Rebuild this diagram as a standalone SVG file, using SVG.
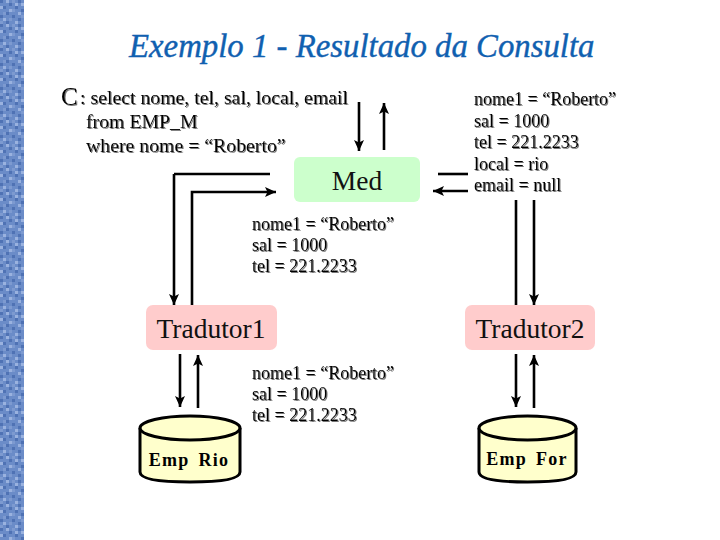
<svg xmlns="http://www.w3.org/2000/svg" width="720" height="540" viewBox="0 0 720 540">
<style>
text{font-family:"Liberation Serif","Times New Roman",serif;fill:#000}
.t{font-size:18px;filter:url(#sh)}
.q{font-size:19.800px;filter:url(#sh)}
.title{font-size:32.800px;font-style:italic;fill:#1060b0;stroke:#1060b0;stroke-width:0.400px}
.n{font-size:27.500px;fill:#111}
.db{font-size:18px;font-weight:bold;letter-spacing:1.300px;word-spacing:3px}
.box1{fill:#ffcccc}
.box2{fill:#ccffcc}
.cyl{fill:#ffffcc;stroke:#000;stroke-width:3}
.c{fill:none;stroke:#000;stroke-width:2.600}
.a{marker-end:url(#ah)}
</style>
<defs>
<filter id="sh" x="-5%" y="-10%" width="110%" height="125%"><feDropShadow dx="1" dy="1" stdDeviation="0.4" flood-color="#777"/></filter>
<marker id="ah" markerUnits="userSpaceOnUse" markerWidth="14" markerHeight="12" refX="11" refY="5" orient="auto"><path d="M0 0L11 5L0 10L2.500 5Z" fill="#000"/></marker>
<pattern id="tex" width="24" height="24" patternUnits="userSpaceOnUse">
<rect width="24" height="24" fill="#6b8cc8"/>
<path d="M0 0h3v3h-3zM9 3h3v3h-3zM18 0h3v3h-3zM3 6h3v3h-3zM15 6h3v3h-3zM21 9h3v3h-3zM6 12h3v3h-3zM12 15h3v3h-3zM0 15h3v3h-3zM18 18h3v3h-3zM6 21h3v3h-3z" fill="#4f72b4"/>
<path d="M6 0h3v3h-3zM15 3h3v3h-3zM0 6h3v3h-3zM9 9h3v3h-3zM18 12h3v3h-3zM3 18h3v3h-3zM15 21h3v3h-3zM21 3h3v3h-3z" fill="#9ab2df"/>
<path d="M12 0h3v3h-3zM3 12h3v3h-3zM12 9h3v3h-3zM21 15h3v3h-3zM9 18h3v3h-3zM0 21h3v3h-3z" fill="#7d9ad0"/>
</pattern>
</defs>
<rect width="720" height="540" fill="#fff"/>
<rect width="24" height="540" fill="url(#tex)"/>
<text class="title" x="129" y="57">Exemplo 1 - Resultado da Consulta</text>
<g id="query" class="q">
<text x="61" y="105" style="font-size:25px">C</text>
<text x="80" y="104">: select nome, tel, sal, local, email</text>
<text x="86" y="128">from EMP_M</text>
<text x="86" y="152">where nome = “Roberto”</text>
</g>
<g id="result-med" class="t">
<text x="474" y="105">nome1 = “Roberto”</text>
<text x="474" y="127">sal = 1000</text>
<text x="474" y="148">tel = 221.2233</text>
<text x="474" y="170">local = rio</text>
<text x="474" y="191">email = null</text>
</g>
<g id="result-t1" class="t">
<text x="252" y="230">nome1 = “Roberto”</text>
<text x="252" y="251">sal = 1000</text>
<text x="252" y="272">tel = 221.2233</text>
</g>
<g id="result-emp" class="t">
<text x="252" y="379">nome1 = “Roberto”</text>
<text x="252" y="400">sal = 1000</text>
<text x="252" y="421">tel = 221.2233</text>
</g>
<g id="med"><rect class="box2" x="294" y="157" width="126" height="45" rx="6"/><text class="n" x="357" y="190" text-anchor="middle">Med</text></g>
<g id="tradutor1"><rect class="box1" x="146" y="305" width="131" height="45" rx="7"/><text class="n" x="211" y="338" text-anchor="middle">Tradutor1</text></g>
<g id="tradutor2"><rect class="box1" x="465" y="305" width="130" height="45" rx="7"/><text class="n" x="530" y="338" text-anchor="middle">Tradutor2</text></g>
<g id="emp-rio">
<path class="cyl" d="M140 428V472Q140 482 190 482T240 472V428"/>
<ellipse class="cyl" cx="190" cy="428" rx="50" ry="12"/>
<text class="db" x="189" y="466" text-anchor="middle">Emp Rio</text>
</g>
<g id="emp-for">
<path class="cyl" d="M479 428V472Q479 482 527.500 482T576 472V428"/>
<ellipse class="cyl" cx="527.500" cy="428" rx="48.500" ry="12"/>
<text class="db" x="527" y="465" text-anchor="middle">Emp For</text>
</g>
<g id="connectors">
<path class="c a" d="M359 102V151"/>
<path class="c a" d="M384 150V103"/>
<path class="c" d="M270 174H174"/>
<path class="c a" d="M174 174V305"/>
<path class="c a" d="M192 305V192H276"/>
<path class="c" d="M468 174H438"/>
<path class="c a" d="M468 191H433"/>
<path class="c" d="M516 200V305"/>
<path class="c a" d="M534 200V305"/>
<path class="c a" d="M180 354V407"/>
<path class="c a" d="M198 408V355"/>
<path class="c a" d="M516 354V407"/>
<path class="c a" d="M534 408V355"/>
</g>
</svg>
